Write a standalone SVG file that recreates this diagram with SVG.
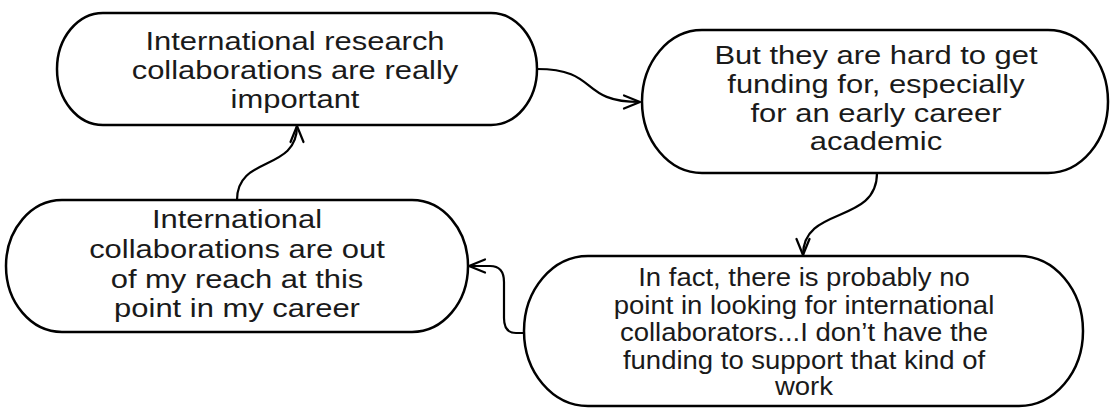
<svg xmlns="http://www.w3.org/2000/svg" width="1111" height="408" viewBox="0 0 1111 408">
<style>
.node{fill:#fff;stroke:#000;stroke-width:2.5}
.lbl{font-family:"Liberation Sans",Arial,Helvetica,sans-serif;font-size:26px;fill:#1a1a1a;text-anchor:middle}
.lbl4{font-size:25px}
.edge{fill:none;stroke:#000;stroke-width:2.2;marker-end:url(#arr)}
</style>
<defs>
<marker id="arr" markerUnits="userSpaceOnUse" viewBox="-20 -10 22 20" refX="0" refY="0" markerWidth="22" markerHeight="20" orient="auto">
<path d="M-16,-6.5 L0,0 L-16,6.5" fill="none" stroke="#000" stroke-width="2.2" stroke-linecap="round" stroke-linejoin="round"/>
</marker>
</defs>
<rect width="1111" height="408" fill="#fff"/>
<g id="connectors">
<path class="edge" d="M537,69 C600,69 578,102 640,102"/>
<path class="edge" d="M877,173 C877,225 803,205 803,255"/>
<path class="edge" d="M524,333 L516,333 C507,333 504,327 504,318 L504,282 C504,272 500,266 490,266 L469,266"/>
<path class="edge" d="M237,200 C237,155 297,172 297,126"/>
</g>
<g id="node1">
<path class="node" d="M103,13 H491 A46,56 0 0 1 491,125 H103 A46,56 0 0 1 103,13 Z"/>
<g transform="translate(295,0) scale(1.19,1)">
<text class="lbl"><tspan x="0" y="50">International research</tspan><tspan x="0" y="79">collaborations are really</tspan><tspan x="0" y="108">important</tspan></text>
</g>
</g>
<g id="node2">
<path class="node" d="M702,30 H1048 A60,71.5 0 0 1 1048,173 H702 A60,71.5 0 0 1 702,30 Z"/>
<g transform="translate(876,0) scale(1.19,1)">
<text class="lbl"><tspan x="0" y="64">But they are hard to get</tspan><tspan x="0" y="93">funding for, especially</tspan><tspan x="0" y="122">for an early career</tspan><tspan x="0" y="150">academic</tspan></text>
</g>
</g>
<g id="node3">
<path class="node" d="M62,200 H412 A56,66 0 0 1 412,332 H62 A56,66 0 0 1 62,200 Z"/>
<g transform="translate(237,0) scale(1.19,1)">
<text class="lbl"><tspan x="0" y="228">International</tspan><tspan x="0" y="258">collaborations are out</tspan><tspan x="0" y="288">of my reach at this</tspan><tspan x="0" y="317">point in my career</tspan></text>
</g>
</g>
<g id="node4">
<path class="node" d="M588,256 H1019 A64,75 0 0 1 1019,406 H588 A64,75 0 0 1 588,256 Z"/>
<g transform="translate(804,0) scale(1.1,1)">
<text class="lbl lbl4"><tspan x="0" y="286">In fact, there is probably no</tspan><tspan x="0" y="314">point in looking for international</tspan><tspan x="0" y="341">collaborators...I don’t have the</tspan><tspan x="0" y="369">funding to support that kind of</tspan><tspan x="0" y="395">work</tspan></text>
</g>
</g>
</svg>
